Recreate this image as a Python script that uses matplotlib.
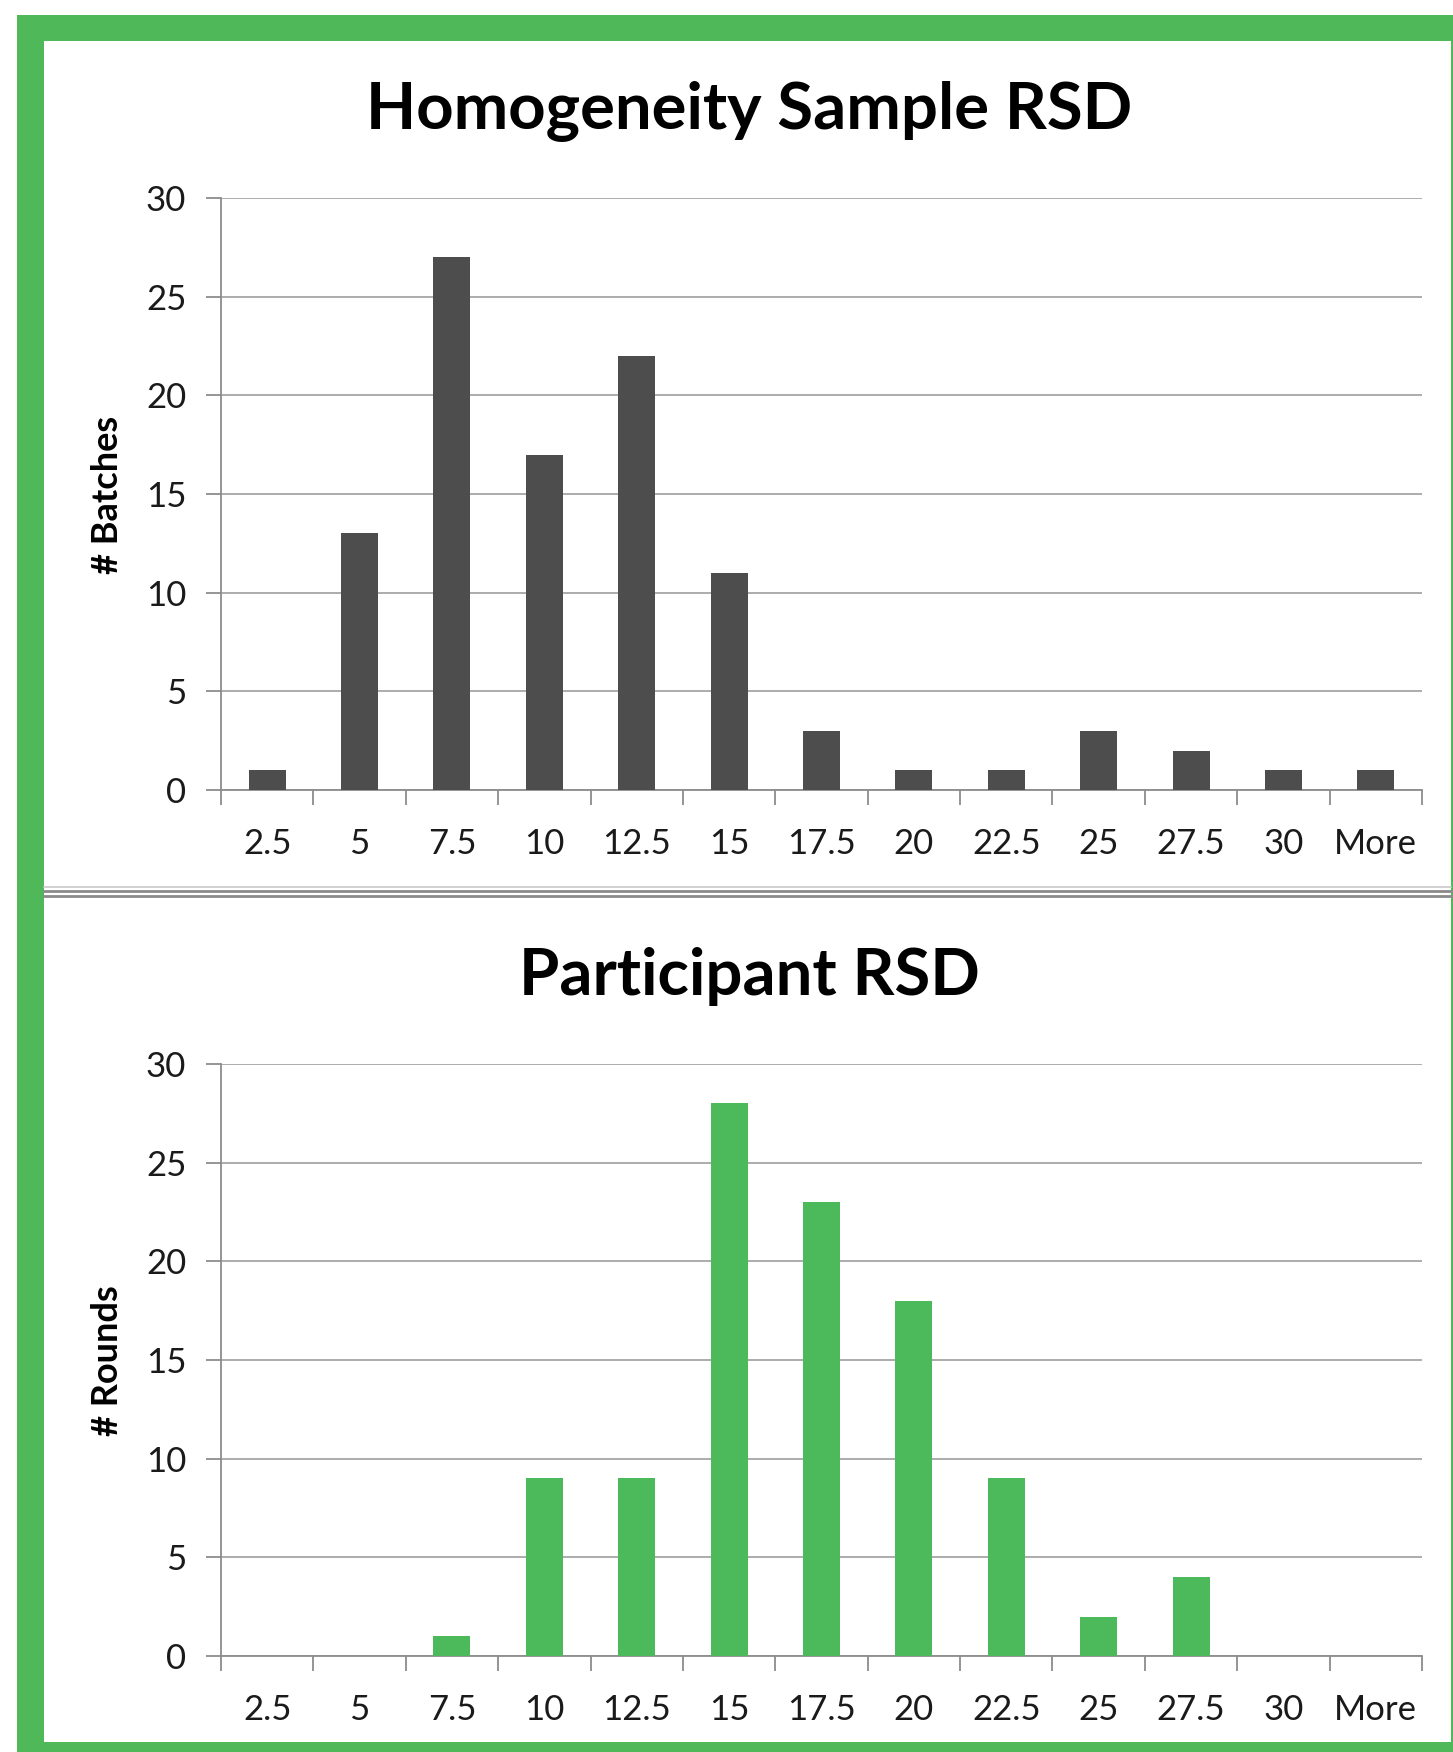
import numpy as np
import matplotlib
matplotlib.use("Agg")
import matplotlib.pyplot as plt
from matplotlib.patches import Rectangle
from matplotlib.lines import Line2D

# ── data ───────────────────────────────────────────────────────────────────
bins = ["2.5", "5", "7.5", "10", "12.5", "15", "17.5", "20", "22.5",
        "25", "27.5", "30", "More"]
batches = [1, 13, 27, 17, 22, 11, 3, 1, 1, 3, 2, 1, 1]
rounds = [0, 0, 1, 9, 9, 28, 23, 18, 9, 2, 4, 0, 0]

W, H = 1453, 1752
GREEN = "#4fb95a"
DARK = "#4d4d4d"
GRID = "#a6a6a6"
AXIS = "#8c8c8c"

plt.rcParams["font.family"] = ["Lato", "DejaVu Sans"]

fig = plt.figure(figsize=(W / 100, H / 100), dpi=100)
fig.patch.set_facecolor("white")


def fx(px):
    return px / W


def fy(py):
    return 1 - py / H


# green frame, cut off at right and bottom
fig.patches.append(Rectangle((fx(17), 0), 1 - fx(17), fy(15), transform=fig.transFigure,
                             facecolor=GREEN, edgecolor="none", zorder=-2))
fig.patches.append(Rectangle((fx(44), fy(1742)), fx(1451) - fx(44), fy(41) - fy(1742),
                             transform=fig.transFigure, facecolor="white",
                             edgecolor="none", zorder=-1))

# double divider line between the two charts
for yy, c, lw in [(887, "#c8c8c8", 1.2), (891, "#8a8a8a", 2.0), (896, "#8a8a8a", 2.0)]:
    fig.lines.append(Line2D([fx(44), fx(1451)], [fy(yy), fy(yy)], transform=fig.transFigure,
                            color=c, lw=lw))


def panel(rect, values, color, title, ylabel, title_y, ylabel_y):
    ax = fig.add_axes(rect)
    x = np.arange(len(bins))
    ax.bar(x, values, width=0.4, color=color, zorder=3)
    ax.set_xlim(-0.5, len(bins) - 0.5)
    ax.set_ylim(0, 30)
    ax.set_yticks(range(0, 31, 5))
    ax.set_xticks(x)
    ax.set_xticklabels(bins)
    ax.set_xticks(np.arange(-0.5, len(bins), 1.0), minor=True)
    ax.tick_params(axis="x", which="major", length=0, pad=27, labelsize=25, labelcolor="#1a1a1a")
    ax.tick_params(axis="x", which="minor", length=11, width=1.3, color=AXIS)
    ax.tick_params(axis="y", length=11, width=1.3, color=AXIS, pad=14,
                   labelsize=25, labelcolor="#1a1a1a")
    ax.grid(axis="y", color=GRID, lw=1.3, zorder=0)
    for s in ["top", "right"]:
        ax.spines[s].set_visible(False)
    for s in ["left", "bottom"]:
        ax.spines[s].set_color(AXIS)
        ax.spines[s].set_linewidth(1.3)
    ax.set_facecolor("none")
    fig.text(fx(749), fy(title_y), title, ha="center", va="center",
             fontsize=47, fontweight="bold", color="black")
    fig.text(fx(108), fy(ylabel_y), ylabel, ha="center", va="center", rotation=90,
             fontsize=26, fontweight="bold", color="black")
    return ax


panel([fx(221), fy(790), fx(1422) - fx(221), fy(198) - fy(790)], batches, DARK,
      "Homogeneity Sample RSD", "# Batches", 112, 495)
panel([fx(221), fy(1656), fx(1422) - fx(221), fy(1064) - fy(1656)], rounds, "#4cb95a",
      "Participant RSD", "# Rounds", 976, 1361)

fig.savefig("out.png", dpi=100)
